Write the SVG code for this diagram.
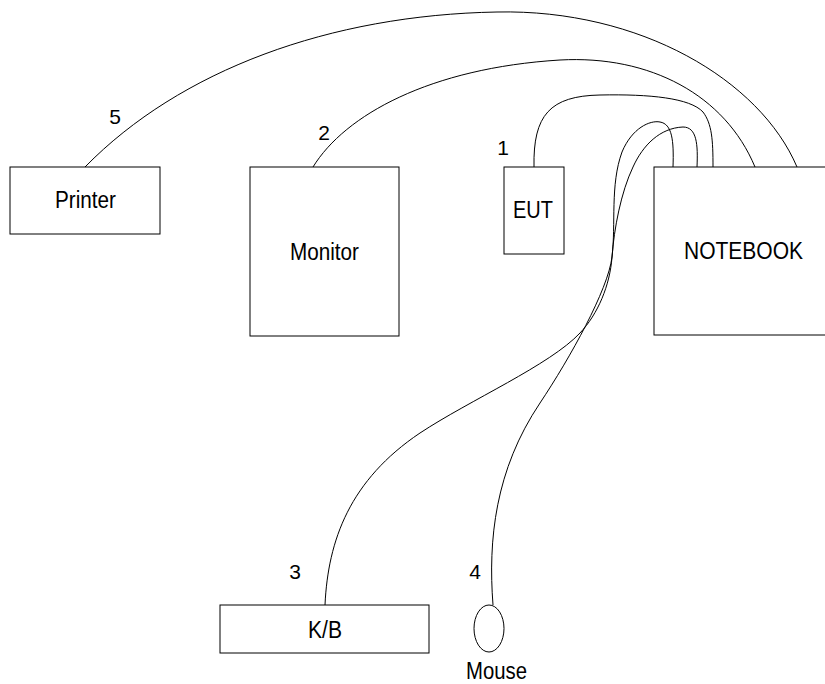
<svg xmlns="http://www.w3.org/2000/svg" width="825" height="684" viewBox="0 0 825 684">
  <style>
    .box { fill: #fff; stroke: #000; stroke-width: 1; }
    .cable { fill: none; stroke: #000; stroke-width: 1; }
    .label { font-family: "Liberation Sans", Arial, sans-serif; font-size: 23px; fill: #000; text-anchor: middle; }
    .num { font-family: "Liberation Sans", Arial, sans-serif; font-size: 21px; fill: #000; text-anchor: middle; }
  </style>
  <rect width="825" height="684" fill="#fff"/>

  <!-- cables between the devices and the notebook -->
  <g id="connectors">
    <!-- 5: printer -->
    <path class="cable" d="M85,167 C180,70 330,15 497,12 C640,9 760,80 797,167"/>
    <!-- 2: monitor -->
    <path class="cable" d="M313,167 C345,115 430,68 560,60 C650,55 725,95 755,167"/>
    <!-- 1: EUT -->
    <path class="cable" d="M534,167 C533,115 550,96 600,95 C650,94 690,98 703,112 C712,124 713,140 713,167"/>
    <!-- 3: keyboard -->
    <path class="cable" d="M325,605 C328,540 350,480 420,433 C470,400 550,365 580,333 C598,314 610,285 612,257 C614,229 621,192 633,167 C643,145 660,128 683,127 C697,127 698,145 697,167"/>
    <!-- 4: mouse -->
    <path class="cable" d="M493,605 C488,540 495,470 540,403 C570,358 608,290 612,257 C616,224 610,185 622,152 C632,128 650,120 660,122 C672,124 674,140 673,167"/>
  </g>

  <g id="printer">
    <rect class="box" x="10" y="167" width="150" height="67"/>
    <text class="label" x="85.5" y="208" textLength="61" lengthAdjust="spacingAndGlyphs">Printer</text>
    <text class="num" x="115" y="124">5</text>
  </g>

  <g id="monitor">
    <rect class="box" x="250" y="167" width="149" height="169"/>
    <text class="label" x="324.5" y="260" textLength="69" lengthAdjust="spacingAndGlyphs">Monitor</text>
    <text class="num" x="324" y="140">2</text>
  </g>

  <g id="eut">
    <rect class="box" x="504" y="167" width="60" height="87"/>
    <text class="label" x="533" y="218" textLength="40" lengthAdjust="spacingAndGlyphs">EUT</text>
    <text class="num" x="503" y="155">1</text>
  </g>

  <g id="notebook">
    <rect class="box" x="654" y="167" width="180" height="168"/>
    <text class="label" x="743.5" y="259" textLength="119" lengthAdjust="spacingAndGlyphs">NOTEBOOK</text>
  </g>

  <g id="keyboard">
    <rect class="box" x="220" y="605" width="209" height="48"/>
    <text class="label" x="325" y="638" textLength="34" lengthAdjust="spacingAndGlyphs">K/B</text>
    <text class="num" x="295" y="579">3</text>
  </g>

  <g id="mouse">
    <ellipse class="box" cx="489" cy="628.5" rx="15" ry="23.5"/>
    <text class="label" x="496.5" y="679" textLength="61" lengthAdjust="spacingAndGlyphs">Mouse</text>
    <text class="num" x="475" y="579">4</text>
  </g>
</svg>
